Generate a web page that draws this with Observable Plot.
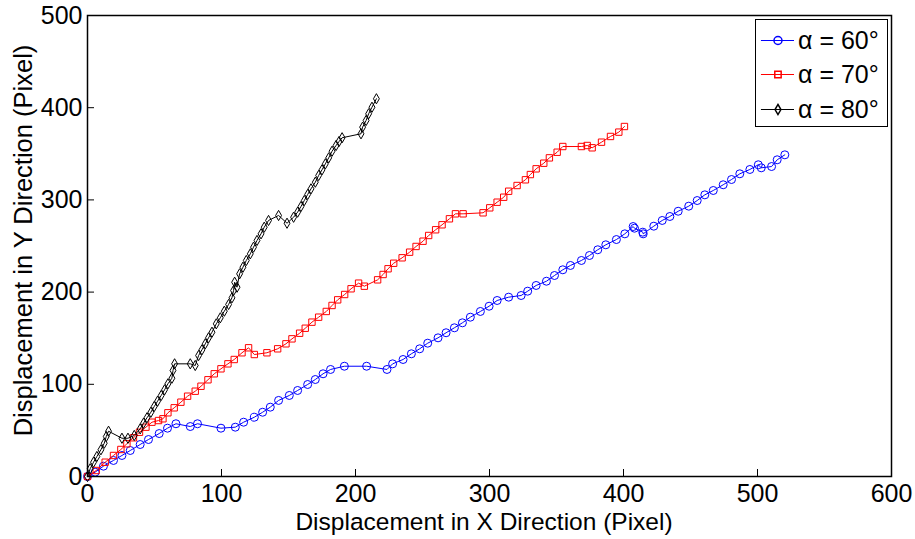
<!DOCTYPE html>
<html>
<head>
<meta charset="utf-8">
<script src="https://cdn.jsdelivr.net/npm/d3@7"></script>
<script src="https://cdn.jsdelivr.net/npm/@observablehq/plot@0.6"></script>
<style>
  html, body { margin: 0; padding: 0; background: #fff; }
  #wrap { position: relative; width: 915px; height: 539px; font-family: "Liberation Sans", Arial, Helvetica, sans-serif; }
  #legend { position: absolute; left: 755px; top: 19px; width: 131px; height: 106px; border: 1.5px solid #000; background: #fff; }
  .row { position: absolute; left: 0; height: 30px; display: flex; align-items: center; }
  .row span { font-size: 25px; margin-left: 4px; color: #000; }
</style>
</head>
<body>
<div id="wrap"></div>
<script>
// α = 60°
const x60 = [0,5.7,11.9,19.4,25.7,31.9,39.3,45.5,53.5,59.7,66.0,76.7,82.1,99.6,110.3,116.5,124.5,130.7,136.4,142.6,150.6,156.8,164.3,170.0,175.8,181.4,191.7,208.3,223.5,227.7,235.5,241.7,247.9,253.9,261.6,267.6,273.8,279.8,285.7,293.2,299.7,305.7,314.3,323.6,328.5,334.8,342.5,348.5,354.7,360.4,368.6,374.6,380.8,386.8,394.7,401.0,407.2,408.2,414.4,414.7,422.6,428.9,434.6,440.8,448.7,455.0,460.7,467.0,474.4,480.6,486.8,494.3,500.6,502.8,510.5,514.7,520.4];
const y60 = [0,4.7,11.2,17.4,22.8,28.2,34.7,40.1,46.6,52.4,57.2,54.2,57.2,52.4,53.5,58.9,64.3,69.7,75.2,82.5,87.9,93.3,99.8,105.2,111.4,116.1,119.6,119.6,116.1,122.2,126.9,133.1,138.5,144.6,150.4,155.9,161.3,166.7,172.8,179.0,184.7,190.9,194.5,196.3,201.0,207.2,211.8,218.0,224.2,228.9,234.3,239.7,245.9,251.3,257.0,263.2,271.1,269.3,265.0,263.2,271.5,277.7,282.0,287.7,293.2,299.3,305.5,310.2,316.4,322.1,328.3,333.0,338.1,334.8,336.2,343.5,348.9];
// α = 70°
const x70 = [0,6.5,13.2,19.4,24.9,29.4,34.3,38.8,43.6,48.1,53.0,56.3,60.0,64.7,69.7,74.7,80.4,84.7,89.9,94.6,99.6,104.8,109.5,115.3,120.2,124.5,133.9,141.9,148.1,152.6,158.3,162.5,167.5,172.5,178.2,182.5,186.7,191.9,196.7,202.3,206.6,216.5,220.6,224.3,228.5,234.8,240.4,245.2,250.4,254.6,259.8,264.6,270.1,274.6,280.3,295.2,300.2,305.7,310.6,314.3,320.6,326.8,330.5,334.8,340.5,344.7,350.5,354.7,368.6,372.9,376.6,383.6,390.3,396.5,400.7];
const y70 = [0,6.5,15.5,22.8,29.3,35.5,42.0,48.0,53.5,58.9,60.7,62.6,69.1,74.5,80.6,87.1,92.5,97.9,104.9,111.4,116.8,122.2,126.9,134.2,139.6,132.3,134.2,138.5,143.9,149.3,155.4,160.8,167.4,172.8,179.0,185.5,191.6,197.4,203.6,209.7,206.4,213.3,219.1,225.3,231.3,237.2,243.3,249.5,255.2,261.4,267.6,273.0,279.5,284.9,284.9,286.0,291.4,297.5,302.9,309.4,315.6,321.8,327.5,333.7,339.8,345.6,351.7,357.9,357.9,359.0,356.5,362.6,368.8,373.5,379.6];
// α = 80°
const x80 = [0,2.0,4.5,7.0,10.0,12.5,14.0,15.7,25.7,30.2,34.9,39.3,41.8,44.4,47.3,49.8,52.3,55.0,57.5,60.0,63.0,63.8,65.0,76.7,80.4,82.9,85.4,87.9,90.3,92.9,96.1,99.1,102.1,105.3,107.8,109.0,109.8,111.6,113.5,116.0,118.5,121.5,123.9,126.5,129.5,131.9,135.1,142.6,148.9,153.8,156.8,159.3,161.8,164.3,166.8,170.0,172.5,175.0,177.5,180.0,182.5,185.5,187.7,190.0,204.1,205.3,207.9,209.8,212.3,215.6];
const y80 = [0,8.4,15.5,21.7,29.0,36.1,43.4,49.1,41.5,41.5,44.5,51.7,57.8,63.7,69.7,75.9,81.7,87.9,94.0,100.5,106.6,115.0,122.2,122.2,120.4,131.2,137.4,143.9,150.4,156.5,165.6,172.1,179.3,186.6,193.8,201.7,210.7,205.3,219.8,227.0,234.3,241.5,248.7,256.0,263.2,270.4,277.7,283.1,274.7,281.2,286.7,292.8,299.3,305.9,312.0,319.2,326.5,332.6,339.1,345.6,352.8,359.0,363.3,367.4,371.7,378.9,386.1,393.4,400.5,409.7];

const seriesNames = ["α = 60°", "α = 70°", "α = 80°"];
const seriesColors = ["#0000ff", "#ff0000", "#000000"];
const seriesSymbols = ["circle", "square", "diamond"];
const seriesR = [4, 3.6, 3.1];
const xTicks = [0, 100, 200, 300, 400, 500, 600];
const yTicks = [0, 100, 200, 300, 400, 500];
const xLabel = "Displacement in X Direction (Pixel)";
const yLabel = "Displacement in Y Direction (Pixel)";

const seriesX = [x60, x70, x80];
const seriesY = [y60, y70, y80];
const series = seriesNames.map((name, i) => seriesX[i].map((x, j) => ({x, y: seriesY[i][j], name})));

const marks = [];
series.forEach((data, i) => {
  marks.push(Plot.line(data, {x: "x", y: "y", stroke: seriesColors[i], strokeWidth: 1}));
  marks.push(Plot.dot(data, {x: "x", y: "y", stroke: seriesColors[i], symbol: seriesSymbols[i], r: seriesR[i], strokeWidth: 1, fill: "none"}));
});

const chart = Plot.plot({
  width: 915,
  height: 539,
  marginLeft: 87,
  marginRight: 24,
  marginTop: 15,
  marginBottom: 63,
  style: {fontFamily: "'Liberation Sans', Arial, Helvetica, sans-serif", fontSize: "25px", color: "#000", background: "#fff"},
  x: {domain: [0, 600]},
  y: {domain: [0, 500]},
  marks: [
    ...marks,
    Plot.frame({stroke: "#000", strokeWidth: 1.5}),
    Plot.axisX(xTicks, {tickSize: -7, tickPadding: 15, strokeWidth: 1, label: null, fontSize: 25}),
    Plot.axisY(yTicks, {tickSize: -7, tickPadding: 12, strokeWidth: 1, label: null, fontSize: 25}),
    Plot.text([xLabel], {frameAnchor: "bottom", textAnchor: "middle", lineAnchor: "middle", dy: 46, dx: -5.5, fontSize: 24.5, fill: "#000"}),
    Plot.text([yLabel], {frameAnchor: "left", textAnchor: "middle", lineAnchor: "middle", rotate: -90, dx: -64, dy: -5.5, fontSize: 25.5, fill: "#000"})
  ]
});
const wrap = document.getElementById("wrap");
wrap.appendChild(chart);

// legend overlay
const legend = document.createElement("div");
legend.id = "legend";
const rowTops = [5, 39, 74];
seriesNames.forEach((name, i) => {
  const row = document.createElement("div");
  row.className = "row";
  row.style.top = rowTops[i] + "px";
  const sw = Plot.plot({
    width: 38, height: 30, margin: 0,
    x: {domain: [0, 1], axis: null}, y: {domain: [0, 1], axis: null},
    marks: [
      Plot.ruleY([0.5], {x1: 0.13, x2: 1, stroke: seriesColors[i], strokeWidth: 1}),
      Plot.dot([{x: 0.565, y: 0.5}], {x: "x", y: "y", stroke: seriesColors[i], symbol: seriesSymbols[i], r: seriesR[i], fill: "none"})
    ]
  });
  row.appendChild(sw);
  const t = document.createElement("span");
  t.textContent = name;
  row.appendChild(t);
  legend.appendChild(row);
});
wrap.appendChild(legend);
</script>
</body>
</html>
